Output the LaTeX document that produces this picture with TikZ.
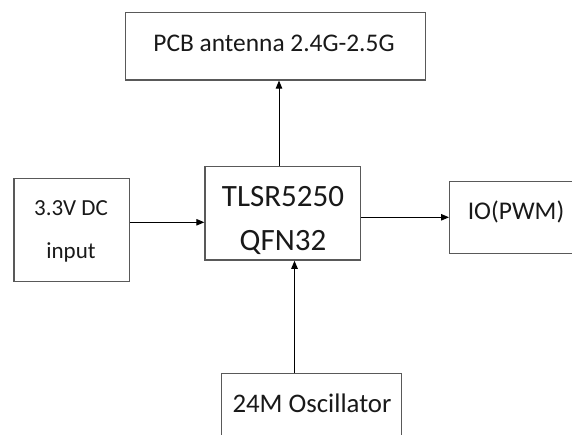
\documentclass[tikz,border=0pt]{standalone}
\usepackage{fontspec}
\setmainfont{Carlito}
\usetikzlibrary{arrows.meta}
\begin{document}
\begin{tikzpicture}[x=1pt,y=-1pt,
  box/.style={draw=black!65, line width=1.3pt, fill=white, inner sep=0pt, anchor=north west},
  txt/.style={inner sep=0pt, text=black!90, anchor=center},
  arr/.style={draw=black, line width=0.9pt, -{Triangle[length=8pt,width=6.5pt]}}]
\useasboundingbox (0,0) rectangle (572,435);
\fill[white] (0,0) rectangle (572,435);
% boxes
\node[box, minimum width=300pt, minimum height=67.3pt] (pcb) at (125,12) {};
\node[box, minimum width=155.7pt, minimum height=93.6pt] (chip) at (204.3,165.9) {};
\node[box, minimum width=115.4pt, minimum height=103.3pt] (dc) at (13.3,177.7) {};
\node[box, minimum width=140pt, minimum height=71.7pt] (io) at (449,181) {};
\node[box, minimum width=180.3pt, minimum height=80pt] (osc) at (220.7,372.7) {};
% texts
\node[txt, font=\fontsize{25.4}{29}\selectfont] (pcbt) at (274,43.5) {PCB antenna 2.4G-2.5G};
\node[txt, font=\fontsize{31}{36}\selectfont] (chipt1) at (283,196.7) {TLSR5250};
\node[txt, font=\fontsize{31}{36}\selectfont] (chipt2) at (283,242.7) {QFN32};
\node[txt, font=\fontsize{23}{27}\selectfont] (dct1) at (71,208) {3.3V DC};
\node[txt, font=\fontsize{23}{27}\selectfont] (dct2) at (71,252) {input};
\node[txt, font=\fontsize{25.5}{30}\selectfont] (iot) at (516,211.7) {IO(PWM)};
\node[txt, font=\fontsize{26.8}{31}\selectfont] (osct) at (312,403) {24M Oscillator};
% connector helpers
\coordinate (xa) at (279,0);
\coordinate (xb) at (294.5,0);
\coordinate (ya) at (0,222.3);
\coordinate (yb) at (0,217.3);
% connectors
\draw[arr] (chip.north -| xa) -- (pcb.south -| xa);
\draw[arr] (osc.north -| xb) -- (chip.south -| xb);
\draw[arr] (dc.east |- ya) -- (chip.west |- ya);
\draw[arr] (chip.east |- yb) -- (io.west |- yb);
\end{tikzpicture}
\end{document}
